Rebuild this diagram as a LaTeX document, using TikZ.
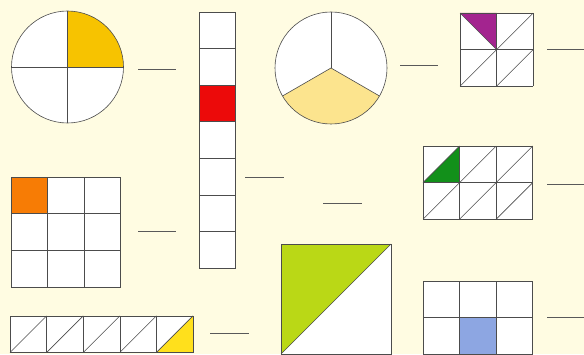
\documentclass[tikz,border=0pt]{standalone}
\usepackage{tikz}
\definecolor{bgcream}{HTML}{FFFCE2}
\definecolor{quarteryellow}{HTML}{F7C300}
\definecolor{thirdyellow}{HTML}{FCE48E}
\definecolor{cellred}{HTML}{EC0A0A}
\definecolor{triPurple}{HTML}{A3248F}
\definecolor{cellorange}{HTML}{F77C05}
\definecolor{triGreen}{HTML}{12901A}
\definecolor{halfGreen}{HTML}{BAD816}
\definecolor{triYellow}{HTML}{FFE01C}
\definecolor{cellblue}{HTML}{8DA6E2}

\begin{document}
\begin{tikzpicture}[x=1pt, y=1pt]

    % Define styles for the shapes
    \tikzstyle{outline} = [draw=black!70, line width=0.6pt]
    \tikzstyle{paper} = [fill=white]
    \tikzstyle{blank} = [draw=black!65, line width=0.8pt]
    \tikzstyle{cellunit} = [x=36.6pt, y=36.6pt, step=1]

    % Background
    \fill [bgcream] (0,0) rectangle (584,354);
    \useasboundingbox (0,0) rectangle (584,354);

    % Circle in quarters
    \coordinate (pieA) at (67.5,287);
    \fill [paper] (pieA) circle (56);
    \fill [quarteryellow] (pieA) -- ++(56,0) arc [start angle=0, end angle=90, radius=56] -- cycle;
    \draw [outline] (pieA) circle (56);
    \draw [outline] ([xshift=-56pt]pieA) -- ([xshift=56pt]pieA);
    \draw [outline] ([yshift=-56pt]pieA) -- ([yshift=56pt]pieA);
    \draw [blank] (138,285) -- (176,285);

    % Column of seven
    \begin{scope}[cellunit, shift={(199pt,85.8pt)}]
        \fill [paper] (0,0) rectangle (1,7);
        \fill [cellred] (0,4) rectangle (1,5);
        \draw [outline] (0,0) grid (1,7);
    \end{scope}
    \draw [blank] (245,177) -- (284,177);

    % Circle in thirds
    \coordinate (pieB) at (331,286);
    \fill [paper] (pieB) circle (56);
    \fill [thirdyellow] (pieB) -- ++(210:56) arc [start angle=210, end angle=330, radius=56] -- cycle;
    \draw [outline] (pieB) circle (56);
    \draw [outline] (pieB) -- ++(90:56);
    \draw [outline] (pieB) -- ++(210:56);
    \draw [outline] (pieB) -- ++(330:56);
    \draw [blank] (400,289) -- (438,289);

    % Square of eight triangles
    \begin{scope}[cellunit, shift={(460pt,267.8pt)}]
        \fill [paper] (0,0) rectangle (2,2);
        \fill [triPurple] (0,2) -- (1,2) -- (1,1) -- cycle;
        \draw [outline] (0,0) grid (2,2);
        \draw [outline] (0,0) -- (2,2);
        \draw [outline] (1,0) -- (2,1);
        \draw [outline] (0,2) -- (1,1);
    \end{scope}
    \draw [blank] (547,305) -- (584,305);

    % Three by three grid
    \begin{scope}[cellunit, shift={(11pt,67.2pt)}]
        \fill [paper] (0,0) rectangle (3,3);
        \fill [cellorange] (0,2) rectangle (1,3);
        \draw [outline] (0,0) grid (3,3);
    \end{scope}
    \draw [blank] (138,123) -- (176,123);

    % Rectangle of twelve triangles
    \begin{scope}[cellunit, shift={(423pt,134.8pt)}]
        \fill [paper] (0,0) rectangle (3,2);
        \fill [triGreen] (0,1) -- (1,1) -- (1,2) -- cycle;
        \draw [outline] (0,0) grid (3,2);
        \draw [outline] (0,0) -- (2,2);
        \draw [outline] (1,0) -- (3,2);
        \draw [outline] (2,0) -- (3,1);
        \draw [outline] (0,1) -- (1,2);
    \end{scope}
    \draw [blank] (547,170) -- (584,170);

    \draw [blank] (323,151) -- (362,151);

    % Square cut in half
    \fill [paper] (281,0) rectangle (391,110);
    \fill [halfGreen] (281,0) -- (281,110) -- (391,110) -- cycle;
    \draw [outline] (281,0) rectangle (391,110);
    \draw [outline] (281,0) -- (391,110);
    \draw [blank] (210,21) -- (249,21);

    % Row of ten triangles
    \begin{scope}[cellunit, shift={(10pt,1.5pt)}]
        \fill [paper] (0,0) rectangle (5,1);
        \fill [triYellow] (4,0) -- (5,0) -- (5,1) -- cycle;
        \draw [outline] (0,0) grid (5,1);
        \draw [outline] (0,0) -- (1,1);
        \draw [outline] (1,0) -- (2,1);
        \draw [outline] (2,0) -- (3,1);
        \draw [outline] (3,0) -- (4,1);
        \draw [outline] (4,0) -- (5,1);
    \end{scope}

    % Three by two grid
    \begin{scope}[cellunit, shift={(423pt,-0.2pt)}]
        \fill [paper] (0,0) rectangle (3,2);
        \fill [cellblue] (1,0) rectangle (2,1);
        \draw [outline] (0,0) grid (3,2);
    \end{scope}
    \draw [blank] (547,37) -- (584,37);

\end{tikzpicture}
\end{document}
